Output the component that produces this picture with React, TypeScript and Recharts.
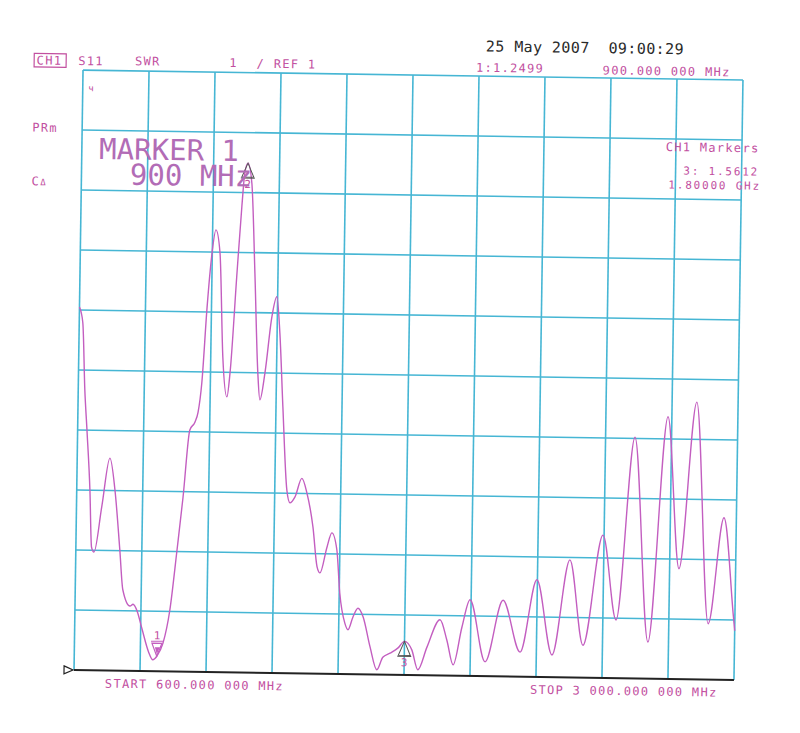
import React from 'react';
import { LineChart, Line, XAxis, YAxis, ReferenceLine, ReferenceDot } from 'recharts';

const FREQ_MHZ = [
  600, 613, 624, 634, 648, 657, 666, 692, 719, 739, 760, 773, 800, 811, 826, 845, 870, 886, 900, 922,
  945, 968, 987, 1008, 1026, 1037, 1049, 1064, 1079, 1092, 1108, 1124, 1141, 1151, 1171, 1185, 1194, 1205, 1220, 1236,
  1252, 1261, 1278, 1300, 1317, 1330, 1345, 1364, 1376, 1394, 1418, 1437, 1461, 1478, 1489, 1513, 1530, 1549, 1562, 1582,
  1594, 1611, 1629, 1648, 1675, 1701, 1722, 1748, 1777, 1800, 1827, 1850, 1882, 1928, 1954, 1978, 2008, 2036, 2094, 2156,
  2221, 2278, 2337, 2397, 2449, 2516, 2568, 2627, 2685, 2746, 2794, 2850, 2903, 2955, 2994, 3000,
];
const SWR = [
  7.05, 6.79, 5.67, 5.0, 4.0, 3.05, 2.97, 3.73, 4.54, 4.01, 3.01, 2.35, 2.08, 2.11, 2.0, 1.7, 1.32, 1.19, 1.25, 1.47,
  2.02, 3.03, 3.91, 5.03, 5.16, 5.33, 5.82, 7.08, 7.98, 8.37, 7.99, 6.25, 5.59, 5.99, 7.67, 8.77, 9.33, 9.49, 9.16, 7.66,
  6.0, 5.55, 6.0, 6.93, 7.27, 6.67, 5.44, 4.05, 3.84, 3.94, 4.25, 4.01, 3.44, 2.78, 2.68, 3.11, 3.35, 3.07, 2.35, 1.85,
  1.74, 1.95, 2.1, 1.96, 1.46, 1.08, 1.29, 1.36, 1.45, 1.56, 1.42, 1.09, 1.47, 1.93, 1.59, 1.18, 1.81, 2.27, 1.24, 2.27,
  1.41, 2.62, 1.37, 2.96, 1.54, 3.38, 1.97, 5.02, 1.61, 5.37, 2.84, 5.62, 1.93, 3.7, 2.08, 1.82,
];
const FREQ_TICKS = [600, 840, 1080, 1320, 1560, 1800, 2040, 2280, 2520, 2760, 3000];
const SWR_TICKS = [2, 3, 4, 5, 6, 7, 8, 9, 10, 11];
const MARKER_IDS = ['1', '2', '3'];
const MARKER_FREQ = [900, 1205, 1800];
const MARKER_SWR = [1.25, 9.49, 1.56];
const MARKER_DIR = ['down', 'up', 'up'];

const rows = FREQ_MHZ.map((f, i) => ({ f, swr: SWR[i] }));

const GRID = '#46b6d4';
const TRACE = '#c35ec0';
const TXT = '#c24f9f';
const BIG = '#b26cb6';
const MONO = '"DejaVu Sans Mono", monospace';

function MarkerGlyph(props: any) {
  const { cx, cy, id, dir } = props;
  if (cx == null || cy == null) return null;
  if (dir === 'down') {
    return (
      <g>
        <polygon points={`${cx - 5},${cy - 13} ${cx + 5},${cy - 13} ${cx},${cy}`} fill="none" stroke={TRACE} strokeWidth={1.2} />
        <polygon points={`${cx - 2},${cy - 9} ${cx + 3},${cy - 9} ${cx},${cy - 2}`} fill={TRACE} />
        <line x1={cx - 6} x2={cx + 6} y1={cy - 15} y2={cy - 15} stroke={TRACE} strokeWidth={1} />
        <text x={cx} y={cy - 17} textAnchor="middle" fontFamily={MONO} fontSize={11} fill={TXT}>{id}</text>
      </g>
    );
  }
  return (
    <g>
      <polygon points={`${cx - 6},${cy + 14} ${cx + 6},${cy + 14} ${cx},${cy}`} fill="none" stroke="#555" strokeWidth={1} />
      <line x1={cx - 7} x2={cx + 7} y1={cy + 15} y2={cy + 15} stroke="#555" strokeWidth={1} />
      <text x={cx} y={cy + 25} textAnchor="middle" fontFamily={MONO} fontSize={11} fill={TXT}>{id}</text>
    </g>
  );
}

function StartArrow(props: any) {
  const { cx, cy } = props;
  if (cx == null || cy == null) return null;
  return (
    <polygon points={`${cx - 10},${cy - 4} ${cx - 1},${cy} ${cx - 10},${cy + 4}`} fill="#fff" stroke="#222" strokeWidth={1.2} />
  );
}

const small = { fontFamily: MONO, fontSize: 12, fill: TXT, letterSpacing: 1.3 } as const;
const tiny = { fontFamily: MONO, fontSize: 11, fill: TXT, letterSpacing: 1.8 } as const;

export default function App() {
  return (
    <div
      style={{
        position: 'absolute',
        left: 0,
        top: 0,
        width: 800,
        height: 733,
        background: '#fff',
        transform: 'rotate(0.86deg)',
        transformOrigin: '408.5px 374.5px',
      }}
    >
      <LineChart width={800} height={733} data={rows} margin={{ top: 75, right: 61.5, bottom: 58, left: 78.5 }}>
        <XAxis dataKey="f" type="number" domain={[600, 3000]} hide />
        <YAxis type="number" domain={[1, 11]} hide />
        {FREQ_TICKS.map((t) => (
          <ReferenceLine key={'v' + t} x={t} stroke={GRID} strokeWidth={1.6} />
        ))}
        {SWR_TICKS.map((t) => (
          <ReferenceLine key={'h' + t} y={t} stroke={GRID} strokeWidth={1.6} />
        ))}
        <ReferenceLine y={1} stroke="#222" strokeWidth={2} />
        <Line type="monotone" dataKey="swr" stroke={TRACE} strokeWidth={1.4} dot={false} isAnimationActive={false} />
        {MARKER_IDS.map((id, i) => (
          <ReferenceDot
            key={id}
            x={MARKER_FREQ[i]}
            y={MARKER_SWR[i]}
            r={0}
            shape={(p: any) => <MarkerGlyph {...p} id={id} dir={MARKER_DIR[i]} />}
          />
        ))}
        <ReferenceDot x={600} y={1} r={0} shape={(p: any) => <StartArrow {...p} />} />
      </LineChart>
      <svg width={800} height={733} style={{ position: 'absolute', left: 0, top: 0, pointerEvents: 'none' }}>
        <rect x={29.5} y={59} width={32} height={13.5} fill="none" stroke={TXT} strokeWidth={1.2} />
        <text x={32} y={70} {...small}>CH1</text>
        <text x={73.6} y={70} {...small}>S11</text>
        <text x={130.3} y={69.3} {...small}>SWR</text>
        <text x={224.6} y={69.8} {...small}>1</text>
        <text x={252} y={70} {...small}>/ REF 1</text>
        <text x={471.4} y={70.7} {...small}>1:1.2499</text>
        <text x={598.1} y={71.5} {...small}>900.000 000 MHz</text>
        <text x={481} y={50.3} fontFamily={MONO} fontSize={15} fill="#2a2a2a" letterSpacing={0.4} xmlSpace="preserve">
          25 May 2007  09:00:29
        </text>
        <text x={28.6} y={137.3} {...small}>PRm</text>
        <text x={28.8} y={190.9} {...small}>
          C<tspan fontSize={9}>Δ</tspan>
        </text>
        <text x={84} y={96} fontFamily={MONO} fontSize={9} fill={TXT}>ч</text>
        <text x={95.9} y={163.7} fontFamily={MONO} fontSize={29} fill={BIG}>MARKER 1</text>
        <text x={127} y={188.9} fontFamily={MONO} fontSize={29} fill={BIG}>900 MHz</text>
        <text x={662.3} y={147.2} {...small}>CH1 Markers</text>
        <text x={680.2} y={170.5} {...tiny}>3: 1.5612</text>
        <text x={665.5} y={184.6} {...tiny}>1.80000 GHz</text>
        <text x={109.6} y={692.2} {...small}>START 600.000 000 MHz</text>
        <text x={534.7} y={691.9} {...small}>STOP 3 000.000 000 MHz</text>
      </svg>
    </div>
  );
}
